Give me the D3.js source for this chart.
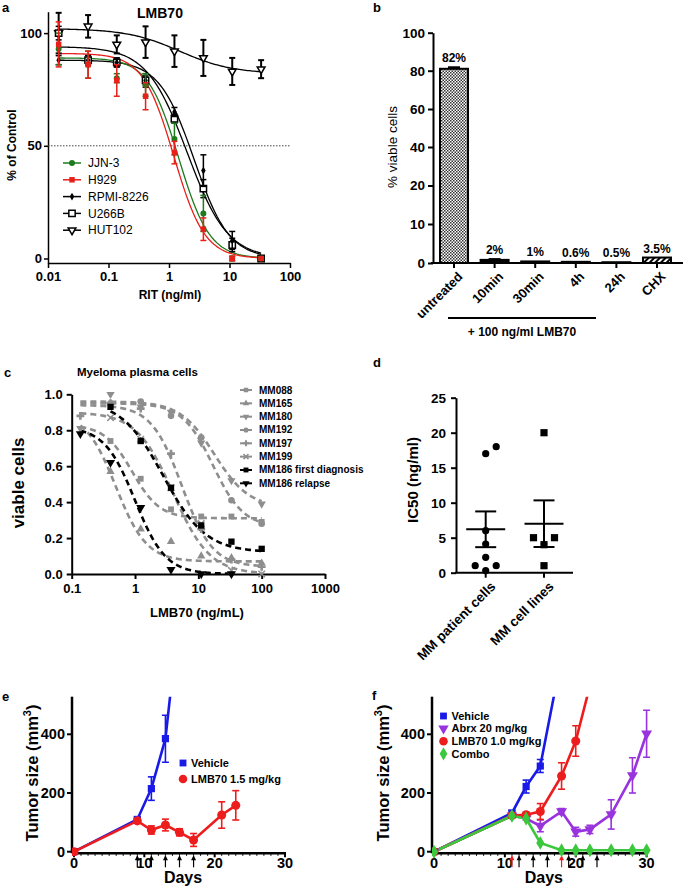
<!DOCTYPE html>
<html><head><meta charset="utf-8">
<script src="https://cdn.jsdelivr.net/npm/d3@7"></script>
<style>body{margin:0;background:#fff}</style>
</head><body>
<svg id="c" width="685" height="886" xmlns="http://www.w3.org/2000/svg"></svg>
<script>
// ================= DATA =================
// Panel a
const aDoses = [0.015, 0.046, 0.137, 0.41, 1.23, 3.7, 11.1, 33.3];
const aNames = ["JJN-3", "H929", "RPMI-8226", "U266B", "HUT102"];
const aJJN3 = [93, 86, 80, 77, 53, 20, 0, 0];
const aJJN3Err = [7, 6, 2, 5, 7, 8, 1, 0];
const aH929 = [95, 86, 79, 72, 47, 13, 0, 0];
const aH929Err = [10, 6, 7, 6, 5, 5, 1, 0];
const aRPMI = [88, 88, 87, 79, 65, 39, 8, 0];
const aRPMIErr = [2, 2, 2, 3, 2, 7, 4, 0];
const aU266B = [100, 88, 87, 79, 62, 31, 6, 0];
const aU266BErr = [3, 2, 2, 2, 2, 4, 3, 0];
const aHUT102 = [100, 103, 95, 96, 92, 89, 83, 84];
const aHUT102Err = [9, 5, 4, 7, 7, 8, 6, 4];
// 4-parameter logistic fit parameters
const aFitTop = [89, 91, 88, 94, 102];
const aFitBottom = [0, 0, 0, 0, 82];
const aFitIC50 = [1.45, 1.2, 2.6, 2.0, 1.5];
const aFitHill = [1.7, 1.7, 1.5, 1.3, 1.0];
const aXTicks = [0.01, 0.1, 1, 10, 100];
const aXTickLabels = ["0.01", "0.1", "1", "10", "100"];
const aYTicks = [0, 50, 100];

// Panel b
const bCats = ["untreated", "10min", "30min", "4h", "24h", "CHX"];
const bValues = [81, 0.8, 0.4, 0.3, 0.2, 1.4];
const bErr = [0.8, 0.2, 0, 0, 0, 0];
const bLabels = ["82%", "2%", "1%", "0.6%", "0.5%", "3.5%"];
const bTicks = [0, 10, 20, 40, 60, 80, 100];

// Panel c
const cDoses = [0.137, 0.41, 1.23, 3.7, 11.1, 33.3, 100];
const cNames = ["MM088", "MM165", "MM180", "MM192", "MM197", "MM199", "MM186 first diagnosis", "MM186 relapse"];
const cMM088 = [null, 0.74, 0.53, 0.36, 0.32, 0.32, 0.29];
const cMM165 = [null, 0.57, 0.25, 0.18, 0.10, 0.09, 0.06];
const cMM180 = [0.81, 1.0, 0.93, 0.90, 0.73, 0.52, 0.39];
const cMM192 = [null, 0.95, 0.96, 0.88, 0.76, 0.41, 0.28];
const cMM197 = [0.88, 0.95, 0.92, 0.67, 0.25, 0.08, 0.04];
const cMM199 = [null, 0.87, 0.75, 0.48, 0.28, 0.02, 0.0];
const cMM186first = [null, 0.93, 0.74, 0.48, 0.27, 0.18, 0.14];
const cMM186relapse = [0.78, 0.62, 0.37, 0.025, 0.0, 0.0, null];
const cFitTop = [0.83, 0.9, 0.96, 0.95, 0.94, 0.9, 0.97, 0.82];
const cFitBottom = [0.31, 0.07, 0.37, 0.26, 0.04, 0.0, 0.12, 0.0];
const cFitIC50 = [0.9, 0.5, 18, 17, 5.5, 4, 2.8, 1.0];
const cFitHill = [2, 1.8, 1.6, 1.8, 1.8, 1.5, 1.3, 1.8];
const cFitFrom = [0.137, 0.137, 0.137, 0.137, 0.137, 0.137, 0.41, 0.137];
const cFitTo = [100, 100, 100, 100, 100, 100, 100, 33.3];
const cXTicks = [0.1, 1, 10, 100, 1000];
const cXTickLabels = ["0.1", "1", "10", "100", "1000"];
const cYTicks = [0, 0.2, 0.4, 0.6, 0.8, 1.0];

// Panel d
const dGroups = ["MM patient cells", "MM cell lines"];
const dPatient = [0.3, 1.0, 1.0, 2.2, 4.1, 6.0, 17, 18];
const dCellLines = [1.0, 4.0, 5.0, 5.0, 20];
const dYTicks = [0, 5, 10, 15, 20, 25];

// Panel e
const eVehDays = [0, 9, 11, 13, 15];
const eVeh = [0, 110, 215, 385, 820];
const eVehErr = [0, 5, 40, 80, 0];
const eLmbDays = [0, 9, 11, 13, 15, 17, 21, 23];
const eLmb = [0, 105, 74, 91, 66, 40, 125, 158];
const eLmbErr = [0, 8, 14, 20, 12, 22, 45, 50];
const eArrows = [9, 11, 13, 15, 17];
const eLegend = ["Vehicle", "LMB70 1.5 mg/kg"];

// Panel f
const fVehDays = [0, 11, 13, 15, 17];
const fVeh = [0, 132, 222, 292, 540];
const fVehErr = [0, 8, 22, 22, 0];
const fAbrxDays = [0, 11, 13, 15, 18, 20, 22, 25, 28, 30];
const fAbrx = [0, 123, 113, 88, 137, 68, 76, 127, 260, 402];
const fAbrxErr = [0, 5, 5, 20, 10, 15, 14, 50, 60, 80];
const fLmbDays = [0, 11, 13, 15, 18, 20, 22];
const fLmb = [0, 123, 126, 137, 258, 377, 565];
const fLmbErr = [0, 8, 8, 27, 45, 52, 0];
const fComboDays = [0, 11, 13, 15, 18, 20, 22, 25, 28, 30];
const fCombo = [0, 122, 113, 30, 5, 5, 5, 5, 5, 5];
const fArrowsBlack = [12, 14, 16, 19, 21, 23];
const fArrowsRed = [11, 18];
const fLegend = ["Vehicle", "Abrx 20 mg/kg", "LMB70 1.0 mg/kg", "Combo"];
const efYTicks = [0, 200, 400];
const efXTicks = [0, 10, 20, 30];

// ================= DRAWING =================
const F = 'Arial, "Liberation Sans", Helvetica, sans-serif';
const svg = d3.select("#c").attr("font-family", F);
const defs = svg.append("defs");

function styleAxis(sel, fs, fw, sw) {
  sel.attr("font-family", F).attr("font-size", fs).attr("font-weight", fw);
  sel.select(".domain").attr("stroke", "#000").attr("stroke-width", sw);
  sel.selectAll(".tick line").attr("stroke", "#000").attr("stroke-width", sw);
  sel.selectAll(".tick text").attr("fill", "#000");
}
function text(g, x, y, s, size, weight, anchor) {
  return g.append("text").attr("x", x).attr("y", y).attr("font-size", size)
    .attr("font-weight", weight || "normal").attr("text-anchor", anchor || "start").attr("fill", "#000").text(s);
}
function vtext(g, x, y, s, size, weight) {
  return g.append("text").attr("transform", `translate(${x},${y}) rotate(-90)`)
    .attr("dy", "0.35em").attr("text-anchor", "middle").attr("font-size", size)
    .attr("font-weight", weight).attr("fill", "#000").text(s);
}
const symPath = (type, size) => d3.symbol().type(type).size(size)();
function marker(g, x, y, type, size, fill, stroke, sw, rot) {
  return g.append("path").attr("d", symPath(type, size))
    .attr("transform", `translate(${x},${y})` + (rot ? ` rotate(${rot})` : ""))
    .attr("fill", fill).attr("stroke", stroke || "none").attr("stroke-width", sw || 0);
}
function errBar(g, x, y1, y2, cap, color, sw) {
  g.append("line").attr("x1", x).attr("x2", x).attr("y1", y1).attr("y2", y2).attr("stroke", color).attr("stroke-width", sw);
  [y1, y2].forEach(y => g.append("line").attr("x1", x - cap).attr("x2", x + cap).attr("y1", y).attr("y2", y)
    .attr("stroke", color).attr("stroke-width", sw));
}
const logistic = (x, top, bottom, ic50, hill) => bottom + (top - bottom) / (1 + Math.pow(x / ic50, hill));
function logSamples(from, to, n) {
  const a = Math.log10(from), b = Math.log10(to);
  return d3.range(n + 1).map(i => Math.pow(10, a + (b - a) * i / n));
}

// panel letters
[["a", 2, 12], ["b", 373, 12], ["c", 4, 377], ["d", 373, 367], ["e", 2, 701], ["f", 372, 700]]
  .forEach(([s, x, y]) => text(svg, x, y, s, 13, "bold"));

// ---------- Panel a ----------
(function () {
  const g = svg.append("g");
  const x = d3.scaleLog().domain([0.01, 100]).range([48, 290]);
  const y = d3.scaleLinear().domain([-2, 109.5]).range([263, 11.7]);
  const gx = g.append("g").attr("transform", "translate(0,263)")
    .call(d3.axisBottom(x).tickValues(aXTicks).tickFormat((d, i) => aXTickLabels[i]).tickSize(5).tickPadding(4).tickSizeOuter(0));
  styleAxis(gx, 13, "bold", 1.5);
  const gy = g.append("g").attr("transform", "translate(48,0)")
    .call(d3.axisLeft(y).tickValues(aYTicks).tickSize(4).tickPadding(2).tickSizeOuter(0));
  styleAxis(gy, 13, "bold", 1.5);
  g.append("line").attr("x1", 48).attr("x2", 290).attr("y1", y(50)).attr("y2", y(50))
    .attr("stroke", "#444").attr("stroke-width", 1).attr("stroke-dasharray", "1.5,1.5");
  text(g, 160, 18, "LMB70", 14, "bold", "middle");
  vtext(g, 12, 145, "% of Control", 12, "bold");
  text(g, 170, 299, "RIT (ng/ml)", 12, "bold", "middle");

  const vals = [aJJN3, aH929, aRPMI, aU266B, aHUT102];
  const errs = [aJJN3Err, aH929Err, aRPMIErr, aU266BErr, aHUT102Err];
  const colors = ["#1d7a1d", "#e8201a", "#000", "#000", "#000"];
  const marks = [
    (gg, px, py) => marker(gg, px, py, d3.symbolCircle, 28, colors[0]),
    (gg, px, py) => marker(gg, px, py, d3.symbolSquare, 30, colors[1]),
    (gg, px, py) => marker(gg, px, py, d3.symbolDiamond, 18, "#000"),
    (gg, px, py) => marker(gg, px, py, d3.symbolSquare, 40, "#fff", "#000", 1.5),
    (gg, px, py) => marker(gg, px, py, d3.symbolTriangle, 26, "#fff", "#000", 1.5, 180)
  ];
  const line = d3.line().x(d => x(d[0])).y(d => y(d[1]));
  const order = [4, 3, 2, 0, 1];
  order.forEach(k => {
    const pts = logSamples(aDoses[0], aDoses[aDoses.length - 1], 120)
      .map(d => [d, logistic(d, aFitTop[k], aFitBottom[k], aFitIC50[k], aFitHill[k])]);
    g.append("path").attr("d", line(pts)).attr("fill", "none").attr("stroke", colors[k]).attr("stroke-width", 1.3);
  });
  order.forEach(k => {
    aDoses.forEach((d, i) => {
      if (errs[k][i] > 0) errBar(g, x(d), y(vals[k][i] - errs[k][i]), y(vals[k][i] + errs[k][i]), 3, colors[k], k === 4 ? 2 : 1.5);
    });
    aDoses.forEach((d, i) => marks[k](g, x(d), y(vals[k][i])));
  });
  // legend
  aNames.forEach((n, k) => {
    const ly = 163 + k * 16.8;
    g.append("line").attr("x1", 63).attr("x2", 81).attr("y1", ly).attr("y2", ly).attr("stroke", colors[k]).attr("stroke-width", 1.5);
    marks[k](g, 72, ly);
    text(g, 88, ly, n, 12, "normal").attr("dy", "0.35em");
  });
})();

// ---------- Panel b ----------
(function () {
  const g = svg.append("g");
  const chk = defs.append("pattern").attr("id", "chk").attr("width", 3).attr("height", 3).attr("patternUnits", "userSpaceOnUse");
  chk.append("rect").attr("width", 3).attr("height", 3).attr("fill", "#fff");
  chk.append("rect").attr("width", 1.5).attr("height", 1.5).attr("fill", "#333");
  chk.append("rect").attr("x", 1.5).attr("y", 1.5).attr("width", 1.5).attr("height", 1.5).attr("fill", "#333");
  const str = defs.append("pattern").attr("id", "str").attr("width", 4).attr("height", 4)
    .attr("patternUnits", "userSpaceOnUse").attr("patternTransform", "rotate(45)");
  str.append("rect").attr("width", 4).attr("height", 4).attr("fill", "#fff");
  str.append("rect").attr("width", 2).attr("height", 4).attr("fill", "#000");

  const x = d3.scaleBand().domain(bCats).range([434, 677]).paddingInner(0.31).paddingOuter(0.148);
  const y = d3.scaleLinear().domain(bTicks).range([263, 224, 185.5, 147, 109, 70.7, 32.7]);
  const gy = g.append("g").attr("transform", "translate(433,0)")
    .call(d3.axisLeft(y).tickValues(bTicks).tickSize(5).tickPadding(3).tickSizeOuter(0));
  styleAxis(gy, 13.5, "bold", 2);
  g.append("line").attr("x1", 431).attr("x2", 683).attr("y1", y(0)).attr("y2", y(0)).attr("stroke", "#000").attr("stroke-width", 2);
  const fills = { untreated: "url(#chk)", CHX: "url(#str)" };
  bCats.forEach((c, i) => {
    const cx = x(c) + x.bandwidth() / 2;
    g.append("line").attr("x1", cx).attr("x2", cx).attr("y1", y(0)).attr("y2", y(0) + 5).attr("stroke", "#000").attr("stroke-width", 2);
    g.append("rect").attr("x", x(c)).attr("width", x.bandwidth()).attr("y", y(bValues[i]))
      .attr("height", y(0) - y(bValues[i])).attr("fill", fills[c] || "#000").attr("stroke", "#000").attr("stroke-width", 2);
    if (bErr[i] > 0) {
      g.append("line").attr("x1", cx - 6).attr("x2", cx + 6).attr("y1", y(bValues[i] + bErr[i])).attr("y2", y(bValues[i] + bErr[i]))
        .attr("stroke", "#000").attr("stroke-width", 2);
    }
    text(g, cx, y(bValues[i] + bErr[i]) - 5, bLabels[i], 12, "bold", "middle");
    g.append("text").attr("transform", `translate(${cx + 3},${y(0) + 8}) rotate(-45)`)
      .attr("text-anchor", "end").attr("dy", "0.7em").attr("font-size", 13).attr("font-weight", "bold").attr("fill", "#000").text(c);
  });
  g.append("line").attr("x1", 448).attr("x2", 596).attr("y1", 318).attr("y2", 318).attr("stroke", "#000").attr("stroke-width", 2);
  text(g, 522, 336, "+ 100 ng/ml LMB70", 12, "bold", "middle");
  vtext(g, 392, 147, "% viable cells", 13.5, "normal");
})();

// ---------- Panel c ----------
(function () {
  const g = svg.append("g");
  const x = d3.scaleLog().domain([0.1, 1000]).range([71.7, 325]);
  const y = d3.scaleLinear().domain([0, 1]).range([574, 394.3]);
  const gx = g.append("g").attr("transform", "translate(0,574)")
    .call(d3.axisBottom(x).tickValues(cXTicks).tickFormat((d, i) => cXTickLabels[i]).tickSize(5).tickPadding(5).tickSizeOuter(0));
  styleAxis(gx, 13, "bold", 2);
  const gy = g.append("g").attr("transform", "translate(71.7,0)")
    .call(d3.axisLeft(y).tickValues(cYTicks).tickFormat(d3.format(".1f")).tickSize(5).tickPadding(4).tickSizeOuter(0));
  styleAxis(gy, 13, "bold", 2);
  text(g, 77, 376, "Myeloma plasma cells", 11.5, "bold");
  vtext(g, 18, 483, "viable cells", 17, "bold");
  text(g, 197, 617, "LMB70 (ng/mL)", 13, "bold", "middle");

  const vals = [cMM088, cMM165, cMM180, cMM192, cMM197, cMM199, cMM186first, cMM186relapse];
  const gray = "#8e8e8e";
  const col = k => k >= 6 ? "#000" : gray;
  const marks = [
    (gg, px, py, s) => marker(gg, px, py, d3.symbolSquare, 34 * s, gray),
    (gg, px, py, s) => marker(gg, px, py, d3.symbolTriangle, 30 * s, gray),
    (gg, px, py, s) => marker(gg, px, py, d3.symbolTriangle, 30 * s, gray, null, 0, 180),
    (gg, px, py, s) => marker(gg, px, py, d3.symbolCircle, 34 * s, gray),
    (gg, px, py, s) => marker(gg, px, py, d3.symbolCross, 34 * s, gray),
    (gg, px, py, s) => marker(gg, px, py, d3.symbolX, 30 * s, "none", gray, 1.5),
    (gg, px, py, s) => marker(gg, px, py, d3.symbolSquare, 40 * s, "#000"),
    (gg, px, py, s) => marker(gg, px, py, d3.symbolTriangle, 36 * s, "#000", null, 0, 180)
  ];
  const line = d3.line().x(d => x(d[0])).y(d => y(d[1]));
  vals.forEach((v, k) => {
    const pts = logSamples(cFitFrom[k], cFitTo[k], 100)
      .map(d => [d, Math.max(0, logistic(d, cFitTop[k], cFitBottom[k], cFitIC50[k], cFitHill[k]))]);
    g.append("path").attr("d", line(pts)).attr("fill", "none").attr("stroke", col(k))
      .attr("stroke-width", 2.6).attr("stroke-dasharray", "6,4");
  });
  vals.forEach((v, k) => {
    cDoses.forEach((d, i) => { if (v[i] !== null) marks[k](g, x(d), y(v[i]), 1); });
  });
  cNames.forEach((n, k) => {
    const ly = 390 + k * 13.33;
    g.append("line").attr("x1", 240).attr("x2", 252).attr("y1", ly).attr("y2", ly).attr("stroke", col(k)).attr("stroke-width", 2);
    marks[k](g, 246, ly, 0.6);
    text(g, 259, ly, n, 10, "bold").attr("dy", "0.35em");
  });
})();

// ---------- Panel d ----------
(function () {
  const g = svg.append("g");
  const x = d3.scalePoint().domain(dGroups).range([485.7, 544]);
  const y = d3.scaleLinear().domain([0, 25]).range([572.7, 397.7]);
  const gy = g.append("g").attr("transform", "translate(456,0)")
    .call(d3.axisLeft(y).tickValues(dYTicks).tickSize(5).tickPadding(5).tickSizeOuter(0));
  styleAxis(gy, 13.5, "bold", 2);
  g.append("line").attr("x1", 455).attr("x2", 573).attr("y1", y(0)).attr("y2", y(0)).attr("stroke", "#000").attr("stroke-width", 2);
  vtext(g, 413, 480, "IC50 (ng/ml)", 15, "bold");
  const groups = [dPatient, dCellLines];
  const step = 10.5;
  groups.forEach((vals, gi) => {
    const cx = x(dGroups[gi]);
    g.append("line").attr("x1", cx).attr("x2", cx).attr("y1", y(0)).attr("y2", y(0) + 5).attr("stroke", "#000").attr("stroke-width", 2);
    // simple column-scatter placement
    const placed = [];
    vals.slice().sort((a, b) => a - b).forEach(v => {
      const py = y(v);
      const cands = [0, step, -step, 2 * step, -2 * step];
      let off = 0;
      for (const c of cands) {
        if (placed.every(p => Math.hypot(p[0] - c, p[1] - py) >= 8.5)) { off = c; break; }
      }
      placed.push([off, py]);
    });
    placed.forEach(([o, py]) => {
      if (gi === 0) g.append("circle").attr("cx", cx + o).attr("cy", py).attr("r", 3.6).attr("fill", "#000");
      else g.append("rect").attr("x", cx + o - 3.6).attr("y", py - 3.6).attr("width", 7.2).attr("height", 7.2).attr("fill", "#000");
    });
    const m = d3.mean(vals);
    const sem = d3.deviation(vals) / Math.sqrt(vals.length);
    g.append("line").attr("x1", cx - 19.5).attr("x2", cx + 19.5).attr("y1", y(m)).attr("y2", y(m)).attr("stroke", "#000").attr("stroke-width", 2);
    errBar(g, cx, y(m - sem), y(m + sem), 10.5, "#000", 2);
    g.append("text").attr("transform", `translate(${cx + 4},${y(0) + 8}) rotate(-45)`)
      .attr("text-anchor", "end").attr("dy", "0.7em").attr("font-size", 13.5).attr("font-weight", "bold").attr("fill", "#000").text(dGroups[gi]);
  });
})();

// ---------- Panels e & f ----------
function growthPanel(opt) {
  const g = svg.append("g");
  const x = d3.scaleLinear().domain([0, 30]).range(opt.xr);
  const y = d3.scaleLinear().domain([0, 400]).range([851.7, 734.3]);
  const top = 696.7, axY = 853.3, axX = opt.xr[0] - 2;
  const clipId = "clip" + opt.id;
  defs.append("clipPath").attr("id", clipId).append("rect")
    .attr("x", axX).attr("y", top).attr("width", 300).attr("height", 200);
  // axes
  g.append("line").attr("x1", axX).attr("x2", axX).attr("y1", top).attr("y2", axY).attr("stroke", "#000").attr("stroke-width", 2.5);
  g.append("line").attr("x1", axX).attr("x2", x(30) + 1).attr("y1", axY).attr("y2", axY).attr("stroke", "#000").attr("stroke-width", 2.5);
  efYTicks.forEach(t => {
    g.append("line").attr("x1", axX - 5).attr("x2", axX).attr("y1", y(t)).attr("y2", y(t)).attr("stroke", "#000").attr("stroke-width", 2);
    text(g, axX - 7, y(t), t, 14.5, "bold", "end").attr("dy", "0.35em");
  });
  d3.range(0, 31).forEach(d => {
    const major = efXTicks.includes(d);
    g.append("line").attr("x1", x(d)).attr("x2", x(d)).attr("y1", axY).attr("y2", axY + (major ? 4 : 2.5))
      .attr("stroke", "#000").attr("stroke-width", major ? 2 : 1);
  });
  efXTicks.forEach(t => text(g, x(t), axY + 15, t, 14.5, "bold", "middle"));
  const yl = g.append("text").attr("transform", `translate(${opt.ylx},773) rotate(-90)`)
    .attr("text-anchor", "middle").attr("dy", "0.35em").attr("font-size", 16.5).attr("font-weight", "bold").attr("fill", "#000");
  yl.append("tspan").text("Tumor size (mm");
  yl.append("tspan").attr("font-size", 11).attr("dy", "-0.6em").text("3");
  yl.append("tspan").attr("dy", "0.4em").text(")");
  text(g, x(15.5), 883, "Days", 16, "bold", "middle");
  // arrows
  opt.arrows.forEach(([d, c]) => {
    const ax = x(d);
    g.append("line").attr("x1", ax).attr("x2", ax).attr("y1", axY + 14).attr("y2", axY + 3).attr("stroke", c).attr("stroke-width", 1.2);
    g.append("path").attr("d", `M${ax - 2.5},${axY + 7} L${ax},${axY + 2} L${ax + 2.5},${axY + 7} Z`).attr("fill", c);
  });
  // series
  const gc = g.append("g").attr("clip-path", `url(#${clipId})`);
  const line = d3.line().x(d => x(d[0])).y(d => y(d[1]));
  opt.series.forEach(s => {
    const pts = s.days.map((d, i) => [d, s.vals[i]]);
    gc.append("path").attr("d", line(pts)).attr("fill", "none").attr("stroke", s.color).attr("stroke-width", 2.6);
  });
  opt.series.forEach(s => {
    s.days.forEach((d, i) => {
      if (s.vals[i] > 528) return;
      if (s.err && s.err[i] > 0) errBar(gc, x(d), y(s.vals[i] - s.err[i]), y(s.vals[i] + s.err[i]), 3.5, s.color, 1.6);
      s.mark(gc, x(d), y(s.vals[i]), 1);
    });
  });
  opt.series.forEach((s, k) => {
    const ly = opt.legY + k * opt.legStep;
    s.mark(g, opt.legX, ly, 0.9);
    text(g, opt.legX + 8, ly, opt.legend[k], 11, "bold").attr("dy", "0.35em");
  });
}
const BLUE = "#1a1ae8", RED = "#ee1d1d", PURPLE = "#9933dd", GREEN = "#3cc83c";
const mSq = c => (g, x, y, s) => marker(g, x, y, d3.symbolSquare, 52 * s, c);
const mCi = c => (g, x, y, s) => marker(g, x, y, d3.symbolCircle, 64 * s, c);
const mTd = c => (g, x, y, s) => marker(g, x, y, d3.symbolTriangle, 52 * s, c, null, 0, 180);
const mDi = c => (g, x, y, s) => marker(g, x, y, d3.symbolDiamond, 56 * s, c);

growthPanel({
  id: "e", xr: [74, 285], ylx: 32, legX: 183, legY: 763, legStep: 16, legend: eLegend,
  arrows: eArrows.map(d => [d, "#000"]),
  series: [
    { days: eVehDays, vals: eVeh, err: eVehErr, color: BLUE, mark: mSq(BLUE) },
    { days: eLmbDays, vals: eLmb, err: eLmbErr, color: RED, mark: mCi(RED) }
  ]
});
growthPanel({
  id: "f", xr: [434, 646.6], ylx: 383, legX: 443.5, legY: 716, legStep: 12.6, legend: fLegend,
  arrows: fArrowsBlack.map(d => [d, "#000"]).concat(fArrowsRed.map(d => [d, RED])),
  series: [
    { days: fVehDays, vals: fVeh, err: fVehErr, color: BLUE, mark: mSq(BLUE) },
    { days: fAbrxDays, vals: fAbrx, err: fAbrxErr, color: PURPLE, mark: mTd(PURPLE) },
    { days: fLmbDays, vals: fLmb, err: fLmbErr, color: RED, mark: mCi(RED) },
    { days: fComboDays, vals: fCombo, err: null, color: GREEN, mark: mDi(GREEN) }
  ]
});
</script>
</body></html>
